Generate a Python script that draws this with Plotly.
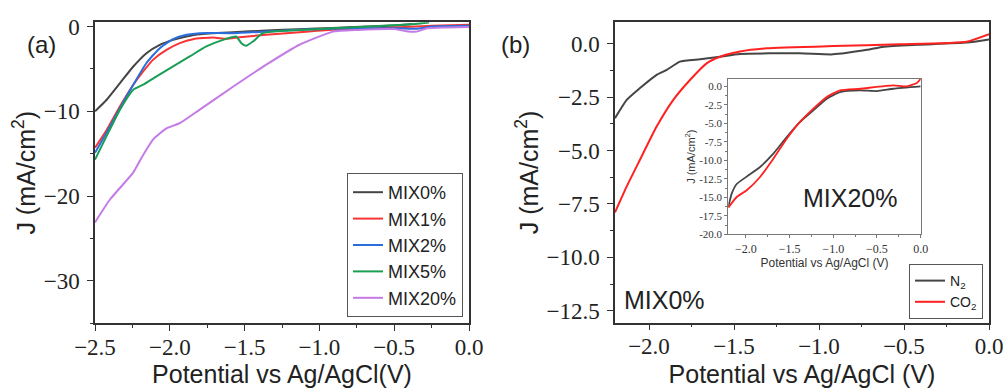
import plotly.graph_objects as go

# ---------------- Panel (a) data ----------------
mix0_v = [-2.5, -2.422, -2.333, -2.244, -2.156, -2.067, -1.978, -1.889, -1.8, -1.578, -1.356, -1.133, -0.911, -0.689, -0.467, -0.378]
mix0_j = [-10.0, -8.63, -6.67, -4.71, -3.14, -2.16, -1.57, -1.18, -0.90, -0.67, -0.47, -0.31, -0.16, 0.0, 0.16, 0.31]

mix1_v = [-2.5, -2.422, -2.333, -2.244, -2.178, -2.111, -2.022, -1.933, -1.844, -1.711, -1.622, -1.533, -1.356, -1.133, -0.911, -0.689, -0.467, -0.244, 0.0]
mix1_j = [-14.3, -12.2, -9.4, -6.86, -5.3, -3.9, -2.75, -1.96, -1.49, -1.29, -1.45, -1.25, -0.98, -0.67, -0.39, -0.27, -0.08, 0.08, 0.2]

mix2_v = [-2.5, -2.422, -2.333, -2.244, -2.156, -2.067, -1.978, -1.889, -1.8, -1.578, -1.356, -1.133, -0.911, -0.689, -0.467, -0.356, -0.244, 0.0]
mix2_j = [-14.9, -12.5, -9.6, -6.86, -4.3, -2.55, -1.49, -0.98, -0.78, -0.78, -0.59, -0.39, -0.27, -0.2, -0.2, -0.27, 0.0, 0.08]

mix5_v = [-2.5, -2.422, -2.333, -2.244, -2.178, -2.089, -1.978, -1.867, -1.756, -1.644, -1.556, -1.522, -1.489, -1.444, -1.378, -1.244, -1.022, -0.8, -0.578, -0.356, -0.267]
mix5_j = [-15.7, -12.9, -9.8, -7.45, -6.86, -5.88, -4.71, -3.53, -2.35, -1.57, -1.18, -1.96, -2.27, -1.76, -0.78, -0.51, -0.31, -0.12, 0.08, 0.31, 0.47]

mix20_v = [-2.5, -2.4, -2.244, -2.19, -2.111, -2.022, -1.933, -1.8, -1.578, -1.355, -1.133, -0.91, -0.75, -0.5, -0.42, -0.35, -0.28, -0.15, 0.0]
mix20_j = [-23.1, -20.4, -17.2, -15.5, -13.3, -12.0, -11.4, -9.8, -7.1, -4.5, -2.15, -0.6, -0.4, -0.3, -0.55, -0.6, -0.2, -0.1, -0.05]

# ---------------- Panel (b) data (MIX0%) ----------------
n2_v = [-2.2, -2.131, -2.053, -1.955, -1.896, -1.818, -1.7, -1.582, -1.465, -1.112, -0.918, -0.718, -0.62, -0.42, -0.131, 0.0]
n2_j = [-3.49, -2.63, -2.08, -1.46, -1.23, -0.84, -0.73, -0.61, -0.48, -0.45, -0.5, -0.29, -0.14, -0.05, 0.05, 0.2]

co2_v = [-2.2, -2.131, -2.053, -1.955, -1.857, -1.759, -1.661, -1.582, -1.465, -1.308, -0.918, -0.524, -0.131, 0.0]
co2_j = [-7.9, -6.68, -5.43, -3.88, -2.63, -1.70, -0.92, -0.61, -0.37, -0.22, -0.11, -0.03, 0.09, 0.44]

# ---------------- Inset data (MIX20%) ----------------
in_n2_v = [-2.2, -2.161, -2.104, -1.99, -1.837, -1.685, -1.532, -1.38, -1.227, -1.074, -0.922, -0.693, -0.502, -0.312, 0.0]
in_n2_j = [-16.3, -14.5, -13.2, -12.2, -10.9, -9.1, -6.85, -4.8, -3.24, -1.66, -0.77, -0.54, -0.63, -0.32, 0.0]

in_co2_v = [-2.2, -2.104, -1.99, -1.837, -1.685, -1.532, -1.38, -1.227, -1.074, -0.922, -0.693, -0.312, -0.16, -0.044, 0.0]
in_co2_j = [-16.4, -14.96, -14.05, -12.25, -9.77, -7.07, -4.8, -3.0, -1.43, -0.54, -0.32, 0.14, 0.0, 0.45, 1.04]

# tick labels
inset_x_vals = [-2.0, -1.5, -1.0, -0.5, 0.0]
inset_x_text = ["\u22122.0", "\u22121.5", "\u22121.0", "\u22120.5", "0.0"]
inset_y_vals = [0.0, -2.5, -5.0, -7.5, -10.0, -12.5, -15.0, -17.5, -20.0]
inset_y_text = ["0.0", "-2.5", "-5.0", "-7.5", "-10.0", "-12.5", "-15.0", "-17.5", "-20.0"]

C_BLACK = "#454545"
C_RED = "#F83434"
C_BLUE = "#2A6EDD"
C_GREEN = "#1A9E55"
C_PURPLE = "#C47BE6"

W, H = 1005, 392
def px(x):
    return x / W
def py(y):
    return 1 - y / H

fig = go.Figure()

def line(x, y, name, color, xa, ya, legend, showlegend=True, width=2):
    fig.add_trace(go.Scatter(x=x, y=y, name=name, mode="lines",
                             line=dict(color=color, width=width, shape="spline", smoothing=0.5),
                             xaxis=xa, yaxis=ya, legend=legend, showlegend=showlegend))

line(mix0_v, mix0_j, "MIX0%", C_BLACK, "x", "y", "legend")
line(mix1_v, mix1_j, "MIX1%", C_RED, "x", "y", "legend")
line(mix2_v, mix2_j, "MIX2%", C_BLUE, "x", "y", "legend")
line(mix5_v, mix5_j, "MIX5%", C_GREEN, "x", "y", "legend")
line(mix20_v, mix20_j, "MIX20%", C_PURPLE, "x", "y", "legend")

line(n2_v, n2_j, "N<sub>2</sub>", C_BLACK, "x2", "y2", "legend2")
line(co2_v, co2_j, "CO<sub>2</sub>", "#FF2020", "x2", "y2", "legend2")

line(in_n2_v, in_n2_j, "N2 inset", C_BLACK, "x3", "y3", "legend2", showlegend=False, width=1.8)
line(in_co2_v, in_co2_j, "CO2 inset", "#FF2020", "x3", "y3", "legend2", showlegend=False, width=1.8)

SERIF = "Liberation Serif, Times New Roman, DejaVu Serif, serif"
SANS = "Liberation Sans, Arial, sans-serif"
AX = "#333333"

def main_axis(**kw):
    d = dict(showline=True, linecolor=AX, linewidth=1.5, mirror=True,
             ticks="outside", ticklen=6, tickwidth=1.3, tickcolor=AX,
             showgrid=False, zeroline=False, automargin=False,
             tickfont=dict(family=SERIF, size=23, color="#222"))
    d.update(kw)
    return d

fig.update_layout(
    template="none",
    width=W, height=H,
    margin=dict(l=0, r=0, t=0, b=0, pad=0),
    paper_bgcolor="white", plot_bgcolor="white",
    font=dict(family=SANS, color="#222"),
    xaxis=main_axis(domain=[px(95), px(469)], range=[-2.5, 0.0], anchor="y",
                    dtick=0.5, tickformat=".1f", ticklabelstandoff=-4,
                    minor=dict(dtick=0.25, ticks="outside", ticklen=3, tickcolor=AX),
                    title=dict(text="Potential vs Ag/AgCl(V)", font=dict(family=SANS, size=25), standoff=7)),
    yaxis=main_axis(domain=[py(323.3), py(22.3)], range=[-35, 0.5], anchor="x",
                    dtick=10, ticklabelstandoff=3,
                    minor=dict(dtick=5, ticks="outside", ticklen=3, tickcolor=AX),
                    title=dict(text="J (mA/cm<sup>2</sup>)", font=dict(family=SANS, size=25), standoff=1)),
    xaxis2=main_axis(domain=[px(615), px(989)], range=[-2.2, 0.0], anchor="y2",
                     dtick=0.5, tickformat=".1f", ticklabelstandoff=-4,
                     minor=dict(dtick=0.25, ticks="outside", ticklen=3, tickcolor=AX),
                     title=dict(text="Potential vs Ag/AgCl (V)", font=dict(family=SANS, size=25), standoff=7)),
    yaxis2=main_axis(domain=[py(322.7), py(22.3)], range=[-13.06, 1.0], anchor="x2",
                     dtick=2.5, tickformat=".1f", ticklabelstandoff=3,
                     minor=dict(dtick=1.25, ticks="outside", ticklen=3, tickcolor=AX),
                     title=dict(text="J (mA/cm<sup>2</sup>)", font=dict(family=SANS, size=25), standoff=1)),
    xaxis3=dict(domain=[px(728.3), px(920.7)], range=[-2.2, 0.0], anchor="y3",
                showline=True, linecolor="#777", linewidth=1, mirror=True,
                ticks="outside", ticklen=3, tickcolor="#777", automargin=False,
                tickvals=inset_x_vals, ticktext=inset_x_text,
                minor=dict(dtick=0.25, ticks="outside", ticklen=2, tickcolor="#777"),
                showgrid=False, zeroline=False,
                tickfont=dict(family=SERIF, size=12, color="#333"),
                title=dict(text="Potential vs Ag/AgCl (V)", font=dict(family=SANS, size=12, color="#333"), standoff=2)),
    yaxis3=dict(domain=[py(234.3), py(79)], range=[-20, 1.0], anchor="x3",
                showline=True, linecolor="#777", linewidth=1, mirror=True,
                ticks="outside", ticklen=3, tickcolor="#777", automargin=False,
                tickvals=inset_y_vals, ticktext=inset_y_text,
                minor=dict(dtick=1.25, ticks="outside", ticklen=2, tickcolor="#777"),
                showgrid=False, zeroline=False,
                tickfont=dict(family=SERIF, size=11, color="#333"),
                title=dict(text="J (mA/cm<sup>2</sup>)", font=dict(family=SANS, size=11, color="#333"), standoff=1)),
    legend=dict(x=px(463), y=py(317), xanchor="right", yanchor="bottom",
                bgcolor="white", bordercolor="#555", borderwidth=1,
                font=dict(family=SANS, size=18, color="#222"),
                tracegroupgap=0, itemwidth=30),
    legend2=dict(x=px(983), y=py(319), xanchor="right", yanchor="bottom",
                 bgcolor="white", bordercolor="#555", borderwidth=1,
                 font=dict(family=SANS, size=14, color="#222"),
                 tracegroupgap=0, itemwidth=30),
    showlegend=True,
    annotations=[
        dict(text="(a)", x=px(41), y=py(44), xref="paper", yref="paper", showarrow=False,
             xanchor="center", yanchor="middle",
             font=dict(family=SANS, size=24, color="#222")),
        dict(text="(b)", x=px(515), y=py(44), xref="paper", yref="paper", showarrow=False,
             xanchor="center", yanchor="middle",
             font=dict(family=SANS, size=24, color="#222")),
        dict(text="MIX0%", x=px(664), y=py(300), xref="paper", yref="paper", showarrow=False,
             xanchor="center", yanchor="middle",
             font=dict(family=SANS, size=25, color="#222")),
        dict(text="MIX20%", x=px(850), y=py(198), xref="paper", yref="paper", showarrow=False,
             xanchor="center", yanchor="middle",
             font=dict(family=SANS, size=25, color="#222")),
    ],
)

fig.write_html("out.html", config={"displayModeBar": False},
               post_script="document.body.style.margin='0px';document.body.style.padding='0px';")
